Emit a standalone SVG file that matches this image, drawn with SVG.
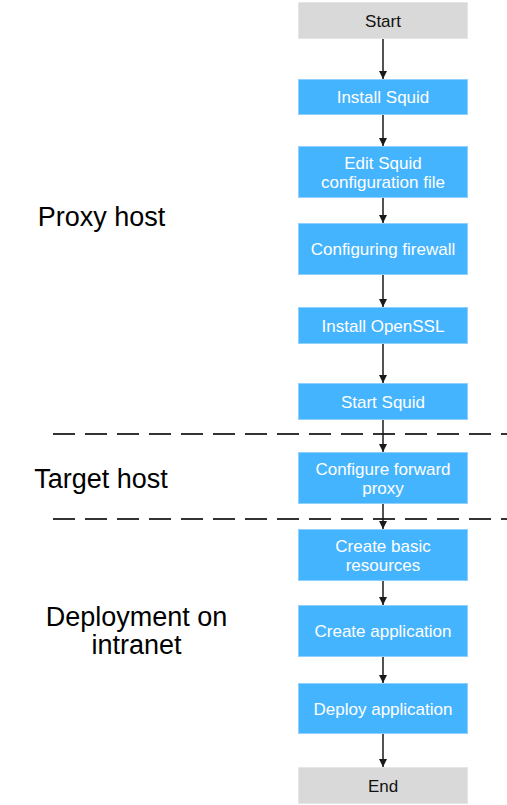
<svg xmlns="http://www.w3.org/2000/svg" width="507" height="805" viewBox="0 0 507 805">
<defs>
<marker id="arr" markerWidth="8" markerHeight="8" refX="8" refY="4" orient="auto" markerUnits="userSpaceOnUse">
<path d="M0,0 L8,4 L0,8 Z" fill="#1a1a1a"/>
</marker>
<style>
.step{fill:#45b4fe;stroke:#8fd0ff;stroke-width:1}
.term{fill:#d9d9d9;stroke:#e6e6e6;stroke-width:1}
.st{font-family:"Liberation Sans",Arial,sans-serif;font-size:17px;fill:#ffffff;text-anchor:middle}
.tt{font-family:"Liberation Sans",Arial,sans-serif;font-size:17px;fill:#111111;text-anchor:middle}
.lbl{font-family:"Liberation Sans",Arial,sans-serif;font-size:27px;fill:#000000;text-anchor:middle}
.conn{stroke:#1a1a1a;stroke-width:1.5;fill:none;marker-end:url(#arr)}
.dash{stroke:#333333;stroke-width:2;stroke-dasharray:22 10;fill:none}
</style>
</defs>
<rect width="507" height="805" fill="#ffffff"/>
<g id="separators">
<line class="dash" x1="53" y1="434" x2="507" y2="434"/>
<line class="dash" x1="53" y1="519" x2="507" y2="519"/>
</g>
<g id="labels">
<text class="lbl" x="101.5" y="226">Proxy host</text>
<text class="lbl" x="101" y="488">Target host</text>
<text class="lbl" x="136.5" y="626">Deployment on</text>
<text class="lbl" x="136.5" y="654">intranet</text>
</g>
<g id="connectors">
<line class="conn" x1="383" y1="39" x2="383" y2="79"/>
<line class="conn" x1="383" y1="115" x2="383" y2="146"/>
<line class="conn" x1="383" y1="198" x2="383" y2="223"/>
<line class="conn" x1="383" y1="275" x2="383" y2="307"/>
<line class="conn" x1="383" y1="344" x2="383" y2="383"/>
<line class="conn" x1="383" y1="420" x2="383" y2="452"/>
<line class="conn" x1="383" y1="504" x2="383" y2="529"/>
<line class="conn" x1="383" y1="581" x2="383" y2="605"/>
<line class="conn" x1="383" y1="657" x2="383" y2="683"/>
<line class="conn" x1="383" y1="734" x2="383" y2="767"/>
</g>
<g id="start"><rect class="term" x="298.5" y="2.5" width="169" height="36"/><text class="tt" x="383" y="26.5">Start</text></g>
<g id="install-squid"><rect class="step" x="298.5" y="79.5" width="169" height="35"/><text class="st" x="383" y="103">Install Squid</text></g>
<g id="edit-config"><rect class="step" x="298.5" y="146.5" width="169" height="51"/><text class="st" x="383" y="169">Edit Squid</text><text class="st" x="383" y="188">configuration file</text></g>
<g id="config-firewall"><rect class="step" x="298.5" y="223.5" width="169" height="51"/><text class="st" x="383" y="255">Configuring firewall</text></g>
<g id="install-openssl"><rect class="step" x="298.5" y="307.5" width="169" height="36"/><text class="st" x="383" y="331.5">Install OpenSSL</text></g>
<g id="start-squid"><rect class="step" x="298.5" y="383.5" width="169" height="36"/><text class="st" x="383" y="407.5">Start Squid</text></g>
<g id="forward-proxy"><rect class="step" x="298.5" y="452.5" width="169" height="51"/><text class="st" x="383" y="475">Configure forward</text><text class="st" x="383" y="494">proxy</text></g>
<g id="basic-resources"><rect class="step" x="298.5" y="529.5" width="169" height="51"/><text class="st" x="383" y="552">Create basic</text><text class="st" x="383" y="571">resources</text></g>
<g id="create-app"><rect class="step" x="298.5" y="605.5" width="169" height="51"/><text class="st" x="383" y="637">Create application</text></g>
<g id="deploy-app"><rect class="step" x="298.5" y="683.5" width="169" height="50"/><text class="st" x="383" y="714.5">Deploy application</text></g>
<g id="end"><rect class="term" x="298.5" y="767.5" width="169" height="36"/><text class="tt" x="383" y="791.5">End</text></g>
</svg>
